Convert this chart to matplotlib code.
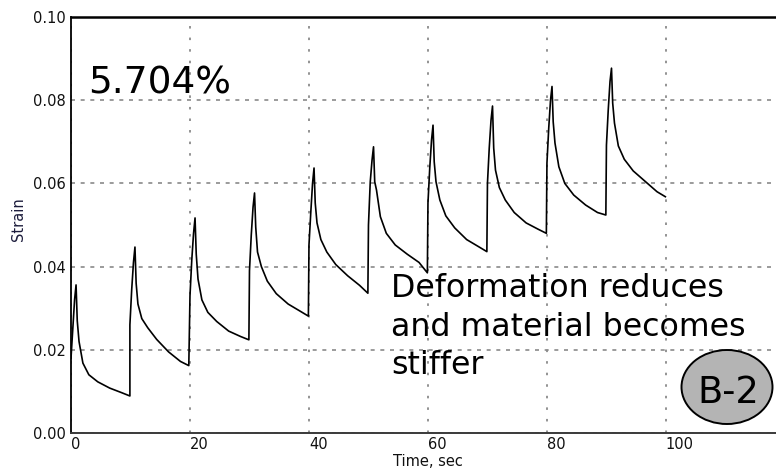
import matplotlib
matplotlib.use('Agg')
import matplotlib.pyplot as plt
from matplotlib.patches import Ellipse
import numpy as np

# ---- data ----
cycle_start = [0.0, 9.9, 20.0, 30.0, 40.0, 50.0, 60.0, 70.0, 80.0, 90.0]
offsets = [0.0, 0.3, 0.6, 0.85, 1.05, 1.35, 2.0, 3.0, 4.5, 6.5, 8.5, 9.9]

strain_c0 = [0.0180, 0.0250, 0.0320, 0.0356, 0.0270, 0.0220, 0.0168, 0.0140, 0.0123, 0.0108, 0.0097, 0.0089]
strain_c1 = [0.0260, 0.0344, 0.0410, 0.0447, 0.0360, 0.0310, 0.0275, 0.0253, 0.0225, 0.0195, 0.0172, 0.0162]
strain_c2 = [0.0330, 0.0416, 0.0480, 0.0517, 0.0430, 0.0370, 0.0320, 0.0290, 0.0268, 0.0245, 0.0232, 0.0224]
strain_c3 = [0.0390, 0.0476, 0.0543, 0.0577, 0.0495, 0.0435, 0.0400, 0.0365, 0.0335, 0.0310, 0.0293, 0.0281]
strain_c4 = [0.0452, 0.0529, 0.0600, 0.0637, 0.0553, 0.0505, 0.0465, 0.0435, 0.0405, 0.0378, 0.0355, 0.0336]
strain_c5 = [0.0500, 0.0604, 0.0656, 0.0688, 0.0604, 0.0584, 0.0520, 0.0480, 0.0452, 0.0430, 0.0410, 0.0385]
strain_c6 = [0.0553, 0.0637, 0.0704, 0.0740, 0.0652, 0.0604, 0.0560, 0.0522, 0.0493, 0.0465, 0.0448, 0.0436]
strain_c7 = [0.0600, 0.0685, 0.0752, 0.0786, 0.0685, 0.0632, 0.0590, 0.0560, 0.0530, 0.0505, 0.0490, 0.0480]
strain_c8 = [0.0649, 0.0733, 0.0800, 0.0833, 0.0748, 0.0697, 0.0640, 0.0600, 0.0572, 0.0548, 0.0530, 0.0524]
strain_c9 = [0.0692, 0.0776, 0.0845, 0.0877, 0.0793, 0.0745, 0.0690, 0.0658, 0.0630, 0.0605, 0.0580, 0.0568]
cycles = [strain_c0, strain_c1, strain_c2, strain_c3, strain_c4,
          strain_c5, strain_c6, strain_c7, strain_c8, strain_c9]

x_ticks = [0, 20, 40, 60, 80, 100]
y_ticks = [0.00, 0.02, 0.04, 0.06, 0.08, 0.10]
y_tick_labels = ['0.00', '0.02', '0.04', '0.06', '0.08', '0.10']

big_label = '5.704%'
note_lines = ['Deformation reduces', 'and material becomes', 'stiffer']
badge = 'B-2'

# ---- figure ----
W, H = 776, 472
fig = plt.figure(figsize=(W / 100, H / 100), dpi=100)
fig.patch.set_facecolor('white')
ax = fig.add_axes([71 / W, 39 / H, (W - 71) / W, 416 / H])

t = np.concatenate([np.array(offsets) + s for s in cycle_start])
y = np.concatenate([np.array(c) for c in cycles])
ax.plot(t, y, color='black', lw=1.2, zorder=3)

ax.set_xlim(0, 118.5)
ax.set_ylim(0, 0.10)
ax.set_xticks(x_ticks)
ax.set_xticklabels([str(v) for v in x_ticks])
ax.set_yticks(y_ticks)
ax.set_yticklabels(y_tick_labels)
ax.tick_params(length=0, labelsize=10.5, labelcolor='#111111')
ax.tick_params(axis='x', pad=3)
ax.tick_params(axis='y', pad=3.5)
for lab in ax.get_xticklabels():
    lab.set_horizontalalignment('left')

ax.xaxis.grid(True, color='#8a8a8a', linestyle=(0, (1.4, 5.0)), lw=1.3)
ax.yaxis.grid(True, color='#8a8a8a', linestyle=(0, (2.4, 3.4)), lw=1.2)
ax.set_axisbelow(True)

ax.spines['right'].set_visible(False)
ax.spines['top'].set_color('black')
ax.spines['top'].set_linewidth(1.8)
ax.spines['left'].set_color('black')
ax.spines['left'].set_linewidth(1.3)
ax.spines['bottom'].set_color('#3a3a3a')
ax.spines['bottom'].set_linewidth(1.4)

fig.text(18 / W, 1 - 219 / H, 'Strain', rotation=90, ha='center', va='center',
         fontsize=10.5, color='#1c1c3c')
fig.text(428 / W, 1 - 462 / H, 'Time, sec', ha='center', va='center',
         fontsize=10.5, color='#111111')

fig.text(88 / W, 1 - 93 / H, big_label, ha='left', va='baseline',
         fontsize=27, color='black')

baselines = [297, 336, 374]
for line, b in zip(note_lines, baselines):
    fig.text(391 / W, 1 - b / H, line, ha='left', va='baseline',
             fontsize=22.8, color='black')

ell = Ellipse((727 / W, 1 - 387 / H), 91 / W, 74 / H, transform=fig.transFigure,
              facecolor='#b4b4b4', edgecolor='black', lw=1.4, zorder=5)
fig.patches.append(ell)
fig.text(728 / W, 1 - 403 / H, badge, ha='center', va='baseline',
         fontsize=26.5, color='black', zorder=6)

fig.savefig('out.png', dpi=100)
